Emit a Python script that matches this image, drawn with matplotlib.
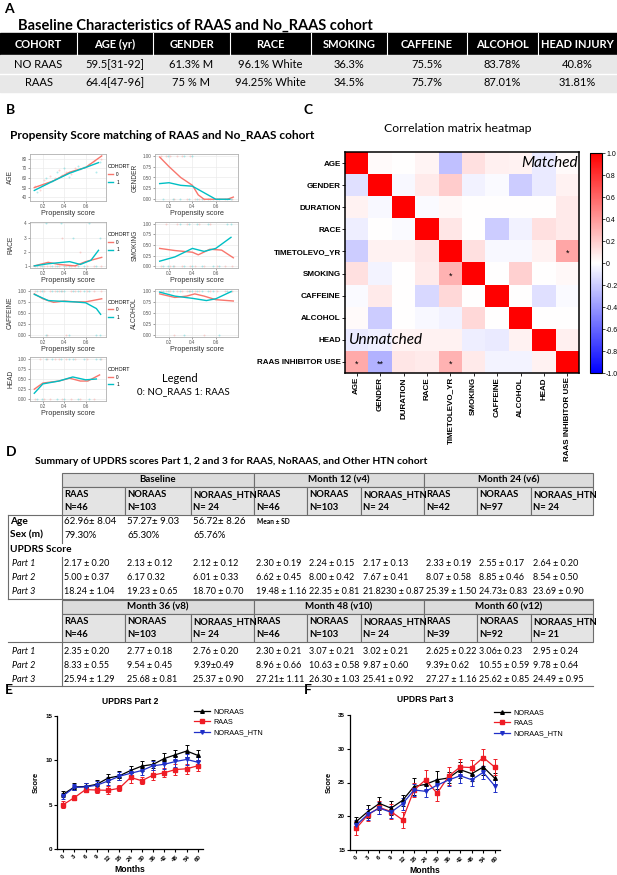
import numpy as np
import matplotlib
matplotlib.use("Agg")
from matplotlib import pyplot as plt
from matplotlib.patches import Rectangle
from matplotlib.lines import Line2D

plt.rcParams['font.family'] = ['Liberation Sans', 'DejaVu Sans']

W, H = 617, 875
CAL = ['Lato', 'DejaVu Sans']   # stand-in for Calibri

# ---------------- panel A data
a_cols = ['COHORT', 'AGE (yr)', 'GENDER', 'RACE', 'SMOKING', 'CAFFEINE', 'ALCOHOL', 'HEAD INJURY']
a_noraas = ['NO RAAS', '59.5[31-92]', '61.3% M', '96.1% White', '36.3%', '75.5%', '83.78%', '40.8%']
a_raas = ['RAAS', '64.4[47-96]', '75 % M', '94.25% White', '34.5%', '75.7%', '87.01%', '31.81%']

# ---------------- panel B data (propensity score smooths)
ps_vars = ['AGE', 'GENDER', 'RACE', 'SMOKING', 'CAFFEINE', 'ALCOHOL', 'HEAD']
age_x0 = [0.12, 0.3, 0.45, 0.6, 0.75]
age_y0 = [50, 57, 66, 71, 83]
age_x1 = [0.12, 0.3, 0.45, 0.6, 0.72]
age_y1 = [47, 57, 65, 71, 76]
gender_x0 = [0.12, 0.2, 0.3, 0.4, 0.45, 0.5, 0.6, 0.7, 0.75]
gender_y0 = [0.97, 0.75, 0.5, 0.32, 0.1, 0.0, 0.0, 0.0, 0.05]
gender_x1 = [0.12, 0.2, 0.3, 0.4, 0.5, 0.6, 0.72]
gender_y1 = [0.36, 0.38, 0.32, 0.3, 0.15, 0.0, 0.0]
race_x0 = [0.12, 0.25, 0.35, 0.5, 0.6, 0.75]
race_y0 = [1.0, 1.25, 1.1, 1.0, 1.3, 1.6]
race_x1 = [0.12, 0.25, 0.45, 0.55, 0.65, 0.72]
race_y1 = [1.0, 1.15, 1.3, 1.1, 1.4, 2.1]
smoking_x0 = [0.12, 0.25, 0.4, 0.45, 0.55, 0.65, 0.75]
smoking_y0 = [0.42, 0.37, 0.33, 0.27, 0.4, 0.38, 0.2]
smoking_x1 = [0.12, 0.25, 0.4, 0.5, 0.6, 0.73]
smoking_y1 = [0.12, 0.22, 0.42, 0.35, 0.42, 0.68]
caffeine_x0 = [0.12, 0.2, 0.3, 0.4, 0.5, 0.6, 0.75]
caffeine_y0 = [0.93, 0.82, 0.74, 0.77, 0.75, 0.75, 0.82]
caffeine_x1 = [0.12, 0.25, 0.4, 0.5, 0.6, 0.7, 0.74]
caffeine_y1 = [0.92, 0.78, 0.76, 0.75, 0.73, 0.6, 0.47]
alcohol_x0 = [0.12, 0.25, 0.35, 0.42, 0.5, 0.6, 0.75]
alcohol_y0 = [0.93, 0.85, 0.88, 0.93, 0.88, 0.8, 0.77]
alcohol_x1 = [0.12, 0.25, 0.4, 0.52, 0.6, 0.73]
alcohol_y1 = [0.97, 0.88, 0.83, 0.78, 0.82, 0.98]
head_x0 = [0.12, 0.2, 0.35, 0.45, 0.55, 0.62, 0.73]
head_y0 = [0.25, 0.4, 0.45, 0.52, 0.45, 0.45, 0.6]
head_x1 = [0.12, 0.2, 0.35, 0.48, 0.6, 0.7]
head_y1 = [0.15, 0.38, 0.45, 0.55, 0.48, 0.5]

pts_x0 = [0.13, 0.17, 0.21, 0.24, 0.27, 0.31, 0.35, 0.38, 0.42, 0.46, 0.50, 0.55, 0.61, 0.68, 0.74]
pts_x1 = [0.15, 0.19, 0.23, 0.29, 0.33, 0.37, 0.40, 0.44, 0.48, 0.53, 0.58, 0.63, 0.70, 0.73]
age_p0 = [52, 47, 58, 55, 62, 60, 68, 63, 66, 64, 70, 69, 73, 78, 80]
age_p1 = [45, 53, 60, 57, 66, 62, 70, 61, 67, 72, 71, 75, 66, 77]
gender_p0 = [1, 1, 1, 0, 1, 1, 0, 1, 0, 0, 0, 0, 0, 0, 0]
gender_p1 = [0, 1, 0, 0, 1, 0, 1, 0, 0, 0, 0, 0, 0, 0]
race_p0 = [1, 1, 1, 1, 1, 1, 1, 3, 1, 1, 1, 2, 1, 1, 1]
race_p1 = [1, 1, 4, 1, 1, 4, 1, 1, 3, 1, 1, 4, 1, 3]
smoking_p0 = [0, 1, 0, 0, 1, 0, 1, 0, 0, 1, 0, 1, 0, 0, 0]
smoking_p1 = [0, 0, 0, 1, 0, 1, 0, 1, 0, 1, 0, 0, 1, 1]
caffeine_p0 = [1, 1, 1, 0, 1, 1, 1, 1, 0, 1, 1, 1, 1, 1, 1]
caffeine_p1 = [1, 1, 0, 1, 1, 1, 1, 0, 1, 1, 1, 1, 0, 0]
alcohol_p0 = [1, 1, 1, 0, 1, 1, 1, 1, 1, 1, 0, 1, 1, 1, 1]
alcohol_p1 = [1, 1, 1, 1, 0, 1, 1, 1, 1, 1, 1, 0, 1, 1]
head_p0 = [0, 1, 0, 1, 0, 1, 1, 0, 1, 0, 1, 0, 1, 0, 1]
head_p1 = [0, 0, 1, 1, 0, 1, 0, 1, 1, 0, 1, 0, 1, 1]

# ---------------- panel C data
corr_labels = ['AGE', 'GENDER', 'DURATION', 'RACE', 'TIMETOLEVO_YR', 'SMOKING',
               'CAFFEINE', 'ALCOHOL', 'HEAD', 'RAAS INHIBITOR USE']
corr = [
    [1.00, 0.02, 0.00, 0.04, -0.25, 0.12, 0.06, 0.05, -0.08, 0.02],
    [-0.12, 1.00, -0.03, 0.08, 0.20, -0.05, -0.02, -0.20, -0.08, 0.05],
    [0.05, -0.03, 1.00, -0.02, 0.03, 0.00, 0.00, 0.00, 0.00, 0.08],
    [-0.07, 0.00, -0.02, 1.00, 0.10, 0.00, -0.20, -0.05, 0.12, 0.08],
    [-0.20, 0.05, 0.05, 0.10, 1.00, 0.12, -0.03, -0.03, 0.05, 0.35],
    [0.12, -0.04, 0.00, 0.08, 0.30, 1.00, 0.00, 0.18, 0.00, 0.03],
    [-0.02, 0.08, 0.00, -0.15, 0.15, 0.00, 1.00, 0.00, -0.12, -0.02],
    [0.02, -0.20, 0.00, -0.03, -0.05, 0.15, 0.00, 1.00, 0.00, 0.00],
    [-0.08, -0.06, 0.04, 0.05, 0.05, -0.07, -0.08, 0.05, 1.00, 0.06],
    [0.33, -0.30, 0.10, 0.08, 0.30, 0.08, -0.04, -0.04, 0.05, 1.00],
]
corr_stars = [(4, 9, '*'), (5, 4, '*'), (9, 0, '*'), (9, 1, '**'), (9, 4, '*')]

# ---------------- panel D data
d_groups_top = ['Baseline', 'Month 12 (v4)', 'Month 24 (v6)']
d_groups_bot = ['Month 36 (v8)', 'Month 48 (v10)', 'Month 60 (v12)']
d_cohorts = ['RAAS', 'NORAAS', 'NORAAS_HTN']
d_n_top = ['N=46', 'N=103', 'N= 24', 'N=46', 'N=103', 'N= 24', 'N=42', 'N=97', 'N= 24']
d_n_bot = ['N=46', 'N=103', 'N= 24', 'N=46', 'N=103', 'N= 24', 'N=39', 'N=92', 'N= 21']
d_age = ['62.96\u00b1 8.04', '57.27\u00b1 9.03', '56.72\u00b1 8.26']
d_sex = ['79.30%', '65.30%', '65.76%']
d_top_p1 = ['2.17 \u00b1 0.20', '2.13 \u00b1 0.12', '2.12 \u00b1 0.12', '2.30 \u00b1 0.19', '2.24 \u00b1 0.15',
            '2.17 \u00b1 0.13', '2.33 \u00b1 0.19', '2.55 \u00b1 0.17', '2.64 \u00b1 0.20']
d_top_p2 = ['5.00 \u00b1 0.37', '6.17 0.32', '6.01 \u00b1 0.33', '6.62 \u00b1 0.45', '8.00 \u00b1 0.42',
            '7.67 \u00b1 0.41', '8.07 \u00b1 0.58', '8.85 \u00b1 0.46', '8.54 \u00b1 0.50']
d_top_p3 = ['18.24 \u00b1 1.04', '19.23 \u00b1 0.65', '18.70 \u00b1 0.70', '19.48 \u00b1 1.16', '22.35 \u00b1 0.81',
            '21.8230 \u00b1 0.87', '25.39 \u00b1 1.50', '24.73\u00b1 0.83', '23.69 \u00b1 0.90']
d_bot_p1 = ['2.35 \u00b1 0.20', '2.77 \u00b1 0.18', '2.76 \u00b1 0.20', '2.30 \u00b1 0.21', '3.07 \u00b1 0.21',
            '3.02 \u00b1 0.21', '2.625 \u00b1 0.22', '3.06\u00b1 0.23', '2.95 \u00b1 0.24']
d_bot_p2 = ['8.33 \u00b1 0.55', '9.54 \u00b1 0.45', '9.39\u00b10.49', '8.96 \u00b1 0.66', '10.63 \u00b1 0.58',
            '9.87 \u00b1 0.60', '9.39\u00b1 0.62', '10.55 \u00b1 0.59', '9.78 \u00b1 0.64']
d_bot_p3 = ['25.94 \u00b1 1.29', '25.68 \u00b1 0.81', '25.37 \u00b1 0.90', '27.21\u00b1 1.11', '26.30 \u00b1 1.03',
            '25.41 \u00b1 0.92', '27.27 \u00b1 1.16', '25.62 \u00b1 0.85', '24.49 \u00b1 0.95']

# ---------------- panels E and F data
months = ['0', '3', '6', '9', '12', '18', '24', '30', '36', '42', '48', '54', '60']
p2_noraas = [6.17, 7.0, 7.05, 7.3, 8.00, 8.25, 8.85, 9.35, 9.54, 10.2, 10.63, 11.05, 10.55]
p2_noraas_se = [0.32, 0.4, 0.42, 0.45, 0.42, 0.5, 0.46, 0.6, 0.45, 0.6, 0.58, 0.7, 0.59]
p2_raas = [5.00, 5.8, 6.7, 6.65, 6.62, 6.85, 8.07, 7.7, 8.33, 8.6, 8.96, 9.05, 9.39]
p2_raas_se = [0.37, 0.3, 0.3, 0.35, 0.45, 0.35, 0.58, 0.4, 0.55, 0.5, 0.66, 0.55, 0.62]
p2_htn = [6.01, 6.95, 7.0, 7.2, 7.67, 8.2, 8.54, 8.85, 9.39, 9.55, 9.87, 10.1, 9.78]
p2_htn_se = [0.33, 0.35, 0.4, 0.45, 0.41, 0.45, 0.50, 0.5, 0.49, 0.55, 0.60, 0.6, 0.64]
p3_noraas = [19.23, 20.7, 21.9, 21.2, 22.35, 24.4, 24.73, 25.4, 25.68, 26.9, 26.30, 27.3, 25.62]
p3_noraas_se = [0.65, 0.9, 0.9, 1.0, 0.81, 1.2, 0.83, 1.3, 0.81, 1.2, 1.03, 1.2, 0.85]
p3_raas = [18.24, 20.2, 21.3, 20.7, 19.48, 23.9, 25.39, 23.4, 25.94, 27.3, 27.21, 28.7, 27.27]
p3_raas_se = [1.04, 0.9, 1.0, 1.1, 1.16, 1.1, 1.50, 1.2, 1.29, 1.2, 1.11, 1.3, 1.16]
p3_htn = [18.70, 20.3, 21.2, 20.6, 21.82, 23.9, 23.69, 24.6, 25.37, 26.0, 25.41, 26.5, 24.49]
p3_htn_se = [0.70, 0.8, 0.9, 0.9, 0.87, 0.9, 0.90, 0.9, 0.90, 1.0, 0.92, 1.0, 0.95]


def box(x0, y0, x1, y1):
    # pixel box (top-left origin) -> figure fraction rect
    return [x0 / W, 1 - y1 / H, (x1 - x0) / W, (y1 - y0) / H]


fig = plt.figure(figsize=(W / 100, H / 100), dpi=100)
ov = fig.add_axes([0, 0, 1, 1])
ov.set_xlim(0, W)
ov.set_ylim(H, 0)
ov.axis('off')

# ================= A
ov.text(4, 9, 'A', fontsize=10, fontweight='bold', family=CAL, va='center')
ov.text(18, 26, 'Baseline Characteristics of RAAS and No_RAAS cohort', fontsize=10.5,
        fontweight='bold', family=CAL, va='center')
a_edges = [0, 77, 153, 230, 311, 387, 467, 538, 617]
ov.add_patch(Rectangle((0, 33), W, 22, color='black'))
ov.add_patch(Rectangle((0, 55), W, 37, color='#e8e8e8'))
ov.plot([0, W], [73.5, 73.5], color='white', lw=1)
for i in range(8):
    xc = (a_edges[i] + a_edges[i + 1]) / 2
    if i > 0:
        ov.plot([a_edges[i], a_edges[i]], [33, 55], color='white', lw=0.8)
    ov.text(xc, 44, a_cols[i], color='white', fontsize=8, fontweight='bold', family=CAL,
            ha='center', va='center')
    ov.text(xc, 64.5, a_noraas[i], fontsize=8, family=CAL, ha='center', va='center')
    ov.text(xc, 83, a_raas[i], fontsize=8, family=CAL, ha='center', va='center')

# ================= B
ov.text(6, 110, 'B', fontsize=10, fontweight='bold', family=CAL, va='center')
ov.text(10, 135, 'Propensity Score matching of RAAS and No_RAAS cohort', fontsize=8.6,
        fontweight='bold', family=CAL, va='center')

red_gg, teal_gg = '#F8766D', '#00BFC4'
b_boxes = [(30, 154, 106, 201), (155, 154, 238, 201), (30, 222, 106, 268), (155, 222, 238, 268),
           (30, 289, 106, 337), (155, 289, 238, 337), (30, 357, 106, 401)]
b_lines = [(age_x0, age_y0, age_x1, age_y1, age_p0, age_p1),
           (gender_x0, gender_y0, gender_x1, gender_y1, gender_p0, gender_p1),
           (race_x0, race_y0, race_x1, race_y1, race_p0, race_p1),
           (smoking_x0, smoking_y0, smoking_x1, smoking_y1, smoking_p0, smoking_p1),
           (caffeine_x0, caffeine_y0, caffeine_x1, caffeine_y1, caffeine_p0, caffeine_p1),
           (alcohol_x0, alcohol_y0, alcohol_x1, alcohol_y1, alcohol_p0, alcohol_p1),
           (head_x0, head_y0, head_x1, head_y1, head_p0, head_p1)]
for k, name in enumerate(ps_vars):
    ax = fig.add_axes(box(*b_boxes[k]))
    x0, y0, x1, y1, p0, p1 = b_lines[k]
    ax.scatter(pts_x0, p0, s=2, color=red_gg, alpha=0.3, lw=0)
    ax.scatter(pts_x1, p1, s=2, color=teal_gg, alpha=0.3, lw=0)
    l0, = ax.plot(x0, y0, color=red_gg, lw=1.0)
    l1, = ax.plot(x1, y1, color=teal_gg, lw=1.0)
    ax.set_xlim(0.08, 0.79)
    ax.set_xticks([0.2, 0.4, 0.6])
    if name == 'AGE':
        ax.set_ylim(36, 85)
        ax.set_yticks([40, 50, 60, 70, 80])
    elif name == 'RACE':
        ax.set_ylim(0.85, 4.1)
        ax.set_yticks([1, 2, 3, 4])
    else:
        ax.set_ylim(-0.04, 1.04)
        ax.set_yticks([0, 0.25, 0.5, 0.75, 1.0])
        ax.set_yticklabels(['0.00', '0.25', '0.50', '0.75', '1.00'])
    ax.grid(True, color='#ebebeb', lw=0.5)
    ax.set_axisbelow(True)
    for s in ax.spines.values():
        s.set_color('#b0b0b0')
        s.set_linewidth(0.6)
    ax.tick_params(labelsize=3.3, length=1.5, width=0.4, pad=0.8, colors='#555555')
    ax.set_xlabel('Propensity score', fontsize=5.2, labelpad=0.5, color='#333333')
    ax.set_ylabel(name, fontsize=4.8, color='#333333')
    if k % 2 == 0:
        ax.yaxis.set_label_coords(-0.21, 0.5)
        lg = ax.legend([l0, l1], ['0', '1'], title='COHORT', loc='upper left',
                       bbox_to_anchor=(0.98, 0.85), frameon=False, fontsize=3.4,
                       title_fontsize=3.8, handlelength=1.2, handletextpad=0.6,
                       labelspacing=0.55, borderpad=0.2)
        lg._legend_box.align = 'left'
    else:
        ax.yaxis.set_label_coords(-0.2, 0.5)

ov.text(162, 378, 'Legend', fontsize=8, family=CAL, va='center')
ov.text(137, 392, '0: NO_RAAS 1: RAAS', fontsize=7, family=CAL, va='center')

# ================= C
ov.text(304, 110, 'C', fontsize=10, fontweight='bold', family=CAL, va='center')
ov.text(458, 128, 'Correlation matrix heatmap', fontsize=8.8, family=CAL, ha='center', va='center')
axc = fig.add_axes(box(345, 152, 579, 373))
im = axc.imshow(np.array(corr), cmap='bwr', vmin=-1, vmax=1, aspect='auto')
axc.set_xticks(range(10))
axc.set_yticks(range(10))
axc.set_xticklabels(corr_labels, rotation=90, fontsize=5.8, fontweight='bold')
axc.set_yticklabels(corr_labels, fontsize=5.8, fontweight='bold')
axc.tick_params(length=2, width=0.6, pad=1)
for s in axc.spines.values():
    s.set_linewidth(1.1)
for r, c, st in corr_stars:
    axc.text(c, r + 0.1, st, ha='center', va='center', fontsize=6.5)
axc.text(9.45, 0.0, 'Matched', style='italic', fontsize=11, family=CAL, ha='right', va='center')
axc.text(-0.35, 8.0, 'Unmatched', style='italic', fontsize=11, family=CAL, ha='left', va='center')
cax = fig.add_axes(box(590, 153, 602, 373))
cb = fig.colorbar(im, cax=cax)
cb.set_ticks(np.round(np.arange(-1, 1.01, 0.2), 1))
cb.set_ticklabels(['-1.0', '-0.8', '-0.6', '-0.4', '-0.2', '0', '0.2', '0.4', '0.6', '0.8', '1.0'])
cax.tick_params(labelsize=5, length=2, width=0.5, pad=1)
cb.outline.set_linewidth(0.8)

# ================= D
ov.text(6, 452, 'D', fontsize=10, fontweight='bold', family=CAL, va='center')
ov.text(35, 462, 'Summary of UPDRS scores Part 1, 2 and 3 for RAAS, NoRAAS, and Other HTN cohort',
        fontsize=7.4, fontweight='bold', family=CAL, va='center')
d_edges = [62, 125, 191, 254, 307, 361, 424, 477, 531, 593]
edge_c = '#6d6d6d'


def draw_header(ytop, groups, ns):
    h1, h2 = 13.5, 28.5
    for g in range(3):
        xa, xb = d_edges[3 * g], d_edges[3 * g + 3]
        ov.add_patch(Rectangle((xa, ytop), xb - xa, h1, facecolor='#dcdcdc', edgecolor=edge_c, lw=0.8))
        ov.text((xa + xb) / 2, ytop + h1 / 2, groups[g], fontsize=7, fontweight='bold', family=CAL,
                ha='center', va='center')
    for i in range(9):
        xa, xb = d_edges[i], d_edges[i + 1]
        ov.add_patch(Rectangle((xa, ytop + h1), xb - xa, h2, facecolor='#e4e4e4', edgecolor=edge_c, lw=0.8))
        ov.text(xa + 2, ytop + h1 + 8, d_cohorts[i % 3], fontsize=6.8, fontweight='bold', family=CAL, va='center')
        ov.text(xa + 2, ytop + h1 + 21, ns[i], fontsize=6.8, fontweight='bold', family=CAL, va='center')
    return ytop + h1 + h2


def draw_parts(ys, rows):
    for lab, y, vals in zip(['Part 1', 'Part 2', 'Part 3'], ys, rows):
        ov.text(12, y, lab, fontsize=6.5, style='italic', family=CAL, va='center')
        for i in range(9):
            ov.text(d_edges[i] + 2, y, vals[i], fontsize=6.5, family=CAL, va='center')


yb = draw_header(473, d_groups_top, d_n_top)
ov.plot([8, 62], [yb, yb], color=edge_c, lw=0.8)
ov.plot([8, 8], [yb, 599], color=edge_c, lw=0.8)
ov.plot([62, 62], [yb, 543], color=edge_c, lw=0.8)
ov.plot([62, 62], [557, 599], color=edge_c, lw=0.8)
ov.plot([8, 593], [599, 599], color=edge_c, lw=0.8)
ov.text(10, 521, 'Age', fontsize=7.3, fontweight='bold', family=CAL, va='center')
ov.text(10, 535, 'Sex (m)', fontsize=7.3, fontweight='bold', family=CAL, va='center')
ov.text(10, 550, 'UPDRS Score', fontsize=7.3, fontweight='bold', family=CAL, va='center')
for i in range(3):
    ov.text(d_edges[i] + 2, 521, d_age[i], fontsize=7, family=CAL, va='center')
    ov.text(d_edges[i] + 2, 535, d_sex[i], fontsize=7, family=CAL, va='center')
ov.text(d_edges[3] + 3, 522, 'Mean \u00b1 SD', fontsize=4.8, fontweight='bold', family=CAL, va='center')
draw_parts([564, 578, 592], [d_top_p1, d_top_p2, d_top_p3])

yb = draw_header(600, d_groups_bot, d_n_bot)
ov.plot([8, 62], [yb, yb], color=edge_c, lw=0.8)
ov.plot([62, 62], [yb, 686], color=edge_c, lw=0.8)
ov.plot([8, 593], [686, 686], color=edge_c, lw=0.8)
draw_parts([651, 665, 680], [d_bot_p1, d_bot_p2, d_bot_p3])

# ================= E and F
col_nor, col_raas, col_htn = 'black', '#ee1c25', '#1f2fc8'


def updrs_panel(rect, title, ylim, yticks, series, leg_anchor):
    ax = fig.add_axes(rect)
    xs = np.arange(len(months))
    handles = []
    for vals, se, col, mk, lab in series:
        ax.errorbar(xs, vals, yerr=se, color=col, lw=0.9, elinewidth=0.7, capsize=1.5,
                    capthick=0.7, marker=mk, ms=2.6, label=lab)
        handles.append(Line2D([], [], color=col, lw=0.9, marker=mk, ms=2.6))
    ax.set_xlim(-0.55, 12.45)
    ax.set_ylim(*ylim)
    ax.set_yticks(yticks)
    ax.set_xticks(xs)
    ax.set_xticklabels(months, rotation=45, fontsize=4.5, fontweight='bold')
    ax.tick_params(axis='y', labelsize=4.5, length=2.5, width=0.8, pad=1)
    ax.tick_params(axis='x', length=2.5, width=0.8, pad=1)
    for lbl in ax.get_yticklabels():
        lbl.set_fontweight('bold')
    ax.spines['top'].set_visible(False)
    ax.spines['right'].set_visible(False)
    ax.spines['left'].set_linewidth(0.9)
    ax.spines['bottom'].set_linewidth(0.9)
    ax.set_title(title, fontsize=6.2, fontweight='bold', pad=9)
    ax.set_xlabel('Months', fontsize=6.2, fontweight='bold', labelpad=2)
    ax.set_ylabel('Score', fontsize=5.5, fontweight='bold', labelpad=4)
    fig.legend(handles, [s[4] for s in series], loc='upper left', bbox_to_anchor=leg_anchor,
               frameon=False, fontsize=5.2, handlelength=2.2, handletextpad=0.5,
               labelspacing=0.45, borderpad=0)
    return ax


ov.text(5, 690, 'E', fontsize=10, fontweight='bold', family=CAL, va='center')
updrs_panel(box(57, 716, 203, 849), 'UPDRS Part 2', (0, 15), [0, 5, 10, 15],
            [(p2_noraas, p2_noraas_se, col_nor, '^', 'NORAAS'),
             (p2_raas, p2_raas_se, col_raas, 's', 'RAAS'),
             (p2_htn, p2_htn_se, col_htn, 'v', 'NORAAS_HTN')],
            (190 / W, 1 - 705 / H))

ov.text(304, 690, 'F', fontsize=10, fontweight='bold', family=CAL, va='center')
updrs_panel(box(350, 715, 500, 850), 'UPDRS Part 3', (15, 35), [15, 20, 25, 30, 35],
            [(p3_noraas, p3_noraas_se, col_nor, '^', 'NORAAS'),
             (p3_raas, p3_raas_se, col_raas, 's', 'RAAS'),
             (p3_htn, p3_htn_se, col_htn, 'v', 'NORAAS_HTN')],
            (490 / W, 1 - 706 / H))

fig.savefig('out.png', dpi=100)
